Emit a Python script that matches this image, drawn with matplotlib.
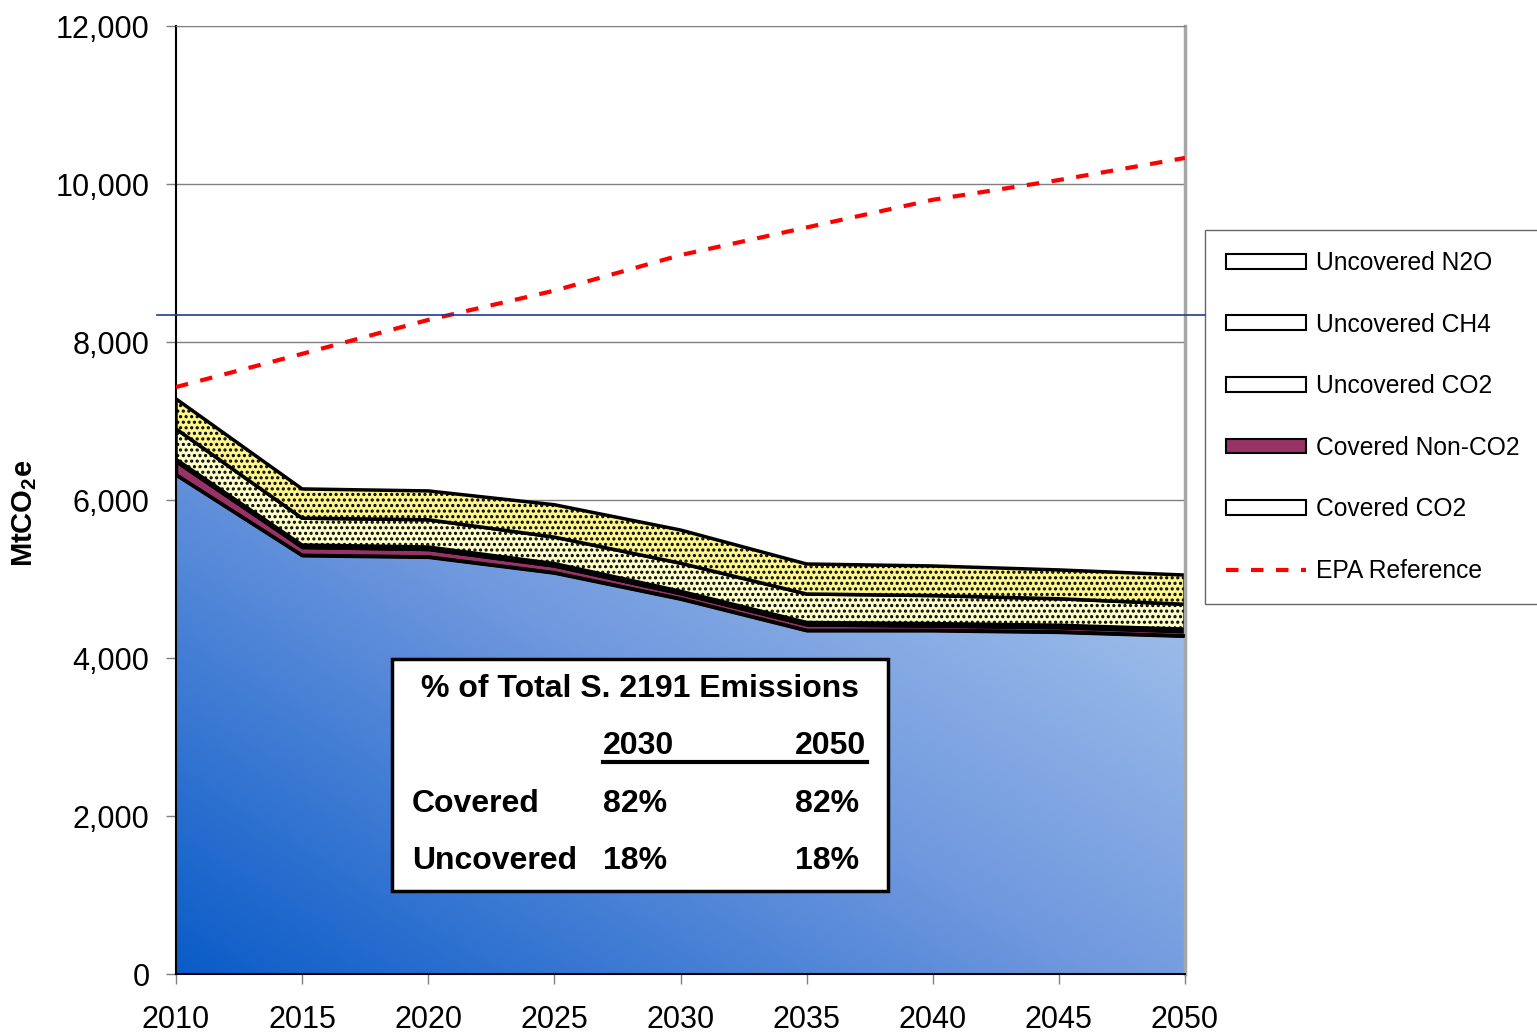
import numpy as np
import matplotlib.pyplot as plt
from matplotlib.patches import Patch, Rectangle
from matplotlib.lines import Line2D
from matplotlib.colors import LinearSegmentedColormap

plt.rcParams['font.family'] = ['Liberation Sans', 'DejaVu Sans']
plt.rcParams['mathtext.fontset'] = 'custom'
plt.rcParams['mathtext.rm'] = 'Liberation Sans'
plt.rcParams['mathtext.bf'] = 'Liberation Sans:bold'
plt.rcParams['hatch.linewidth'] = 1.5

# data (MtCO2e)
years = [2010, 2015, 2020, 2025, 2030, 2035, 2040, 2045, 2050]
covered_co2 = [6320, 5300, 5280, 5080, 4750, 4350, 4350, 4330, 4280]
covered_nonco2 = [170, 105, 100, 90, 70, 75, 60, 60, 60]
uncovered_co2 = [25, 25, 25, 25, 25, 25, 25, 25, 25]
uncovered_ch4 = [385, 340, 345, 335, 355, 360, 355, 335, 315]
uncovered_n2o = [380, 370, 365, 410, 420, 380, 375, 365, 370]
epa_reference = [7430, 7850, 8280, 8650, 9100, 9450, 9800, 10050, 10330]

yticks = [0, 2000, 4000, 6000, 8000, 10000, 12000]

W, H = 1537, 1035
fig = plt.figure(figsize=(W / 100, H / 100), dpi=100)
ax = fig.add_axes([176 / W, 1 - 974 / H, (1185 - 176) / W, (974 - 26) / H])

# covered CO2 with diagonal blue gradient
blue = ax.fill_between(years, 0, covered_co2, facecolor='none', edgecolor='none')
gx, gy = np.meshgrid(np.linspace(0, 1, 400), np.linspace(0, 1, 300))
grad = 0.55 * gx + 0.45 * gy
cmap = LinearSegmentedColormap.from_list('blues', ['#0A5CC8', '#6F98DE', '#AECBEE'])
im = ax.imshow(grad, cmap=cmap, extent=[2010, 2050, 0, 6500], origin='lower',
               aspect='auto', zorder=1)
im.set_clip_path(blue.get_paths()[0], transform=ax.transData)
ax.plot(years, covered_co2, color='black', lw=2.5, zorder=3)

# stacked layers above
b1 = np.array(covered_co2)
t1 = b1 + np.array(covered_nonco2)
t2 = t1 + np.array(uncovered_co2)
t3 = t2 + np.array(uncovered_ch4)
t4 = t3 + np.array(uncovered_n2o)

ax.fill_between(years, b1, t1, facecolor='#993366', edgecolor='black', lw=2.5, zorder=2)
ax.fill_between(years, t1, t2, facecolor='#FFFFCC', edgecolor='black', lw=2.5, zorder=2)
ax.fill_between(years, t2, t3, facecolor='#FFFFC8', edgecolor='black', hatch='...',
                lw=2.5, zorder=2)
ax.fill_between(years, t3, t4, facecolor='#FCF68C', edgecolor='black', hatch='...',
                lw=2.5, zorder=2)

ax.plot(years, epa_reference, color='#FF0000', lw=3, ls=(0, (3, 3)), zorder=4)

ax.set_xlim(2010, 2050)
ax.set_ylim(0, 12000)
ax.set_xticks(years)
ax.set_yticks(yticks)
ax.set_yticklabels([f'{v:,}' for v in yticks])
ax.yaxis.grid(True, color='#808080', lw=1)
ax.set_axisbelow(True)
ax.tick_params(axis='both', direction='out', length=7, width=1, color='#808080',
               labelsize=22)
ax.tick_params(axis='y', pad=12)
ax.tick_params(axis='x', pad=15)
ax.spines['left'].set_color('black')
ax.spines['bottom'].set_color('black')
ax.spines['left'].set_linewidth(1.5)
ax.spines['bottom'].set_linewidth(1.5)
ax.spines['top'].set_color('#808080')
ax.spines['right'].set_color('#A6A6A6')
ax.spines['right'].set_linewidth(2.5)

fig.text(25 / W, 1 - 513 / H, r'MtCO$_\mathbf{2}$e', rotation=90, fontsize=21,
         fontweight='bold', ha='center', va='center')

# stray line through the chart at ~8,350
fig.add_artist(Line2D([157 / W, 1205 / W], [1 - 315 / H] * 2, color='#1F3A93',
                      lw=1.2, transform=fig.transFigure, zorder=1))

# inset table
fig.add_artist(Rectangle((392 / W, 1 - 891 / H), 496 / W, 232 / H, facecolor='white',
                         edgecolor='black', lw=2.5, transform=fig.transFigure, zorder=5))
kw = dict(fontsize=23, fontweight='bold', va='center', zorder=6)
fig.text(640 / W, 1 - 689 / H, '% of Total S. 2191 Emissions', ha='center', **kw)
fig.text(603 / W, 1 - 746 / H, '2030', ha='left', **kw)
fig.text(866 / W, 1 - 746 / H, '2050', ha='right', **kw)
fig.add_artist(Line2D([603 / W, 867 / W], [1 - 762 / H] * 2, color='black', lw=3,
                      transform=fig.transFigure, zorder=6))
fig.text(412 / W, 1 - 804 / H, 'Covered', ha='left', **kw)
fig.text(603 / W, 1 - 804 / H, '82%', ha='left', **kw)
fig.text(795 / W, 1 - 804 / H, '82%', ha='left', **kw)
fig.text(412 / W, 1 - 861 / H, 'Uncovered', ha='left', **kw)
fig.text(603 / W, 1 - 861 / H, '18%', ha='left', **kw)
fig.text(795 / W, 1 - 861 / H, '18%', ha='left', **kw)

# legend
handles = [
    Patch(facecolor='white', edgecolor='black', lw=1.5),
    Patch(facecolor='white', edgecolor='black', lw=1.5),
    Patch(facecolor='white', edgecolor='black', lw=1.5),
    Patch(facecolor='#993366', edgecolor='black', lw=1.5),
    Patch(facecolor='white', edgecolor='black', lw=1.5),
    Line2D([], [], color='#FF0000', lw=3, ls=(0, (3, 3))),
]
labels = ['Uncovered N2O', 'Uncovered CH4', 'Uncovered CO2', 'Covered Non-CO2',
          'Covered CO2', 'EPA Reference']
leg = fig.legend(handles, labels, loc='upper left', bbox_to_anchor=(1205 / W, 1 - 230 / H),
                 fontsize=17.7, frameon=True, fancybox=False, edgecolor='#404040',
                 borderpad=0.85, labelspacing=1.53, handlelength=3.25, handleheight=0.55,
                 handletextpad=0.4, borderaxespad=0)
leg.get_frame().set_linewidth(1)

fig.savefig('out.png', dpi=100)
